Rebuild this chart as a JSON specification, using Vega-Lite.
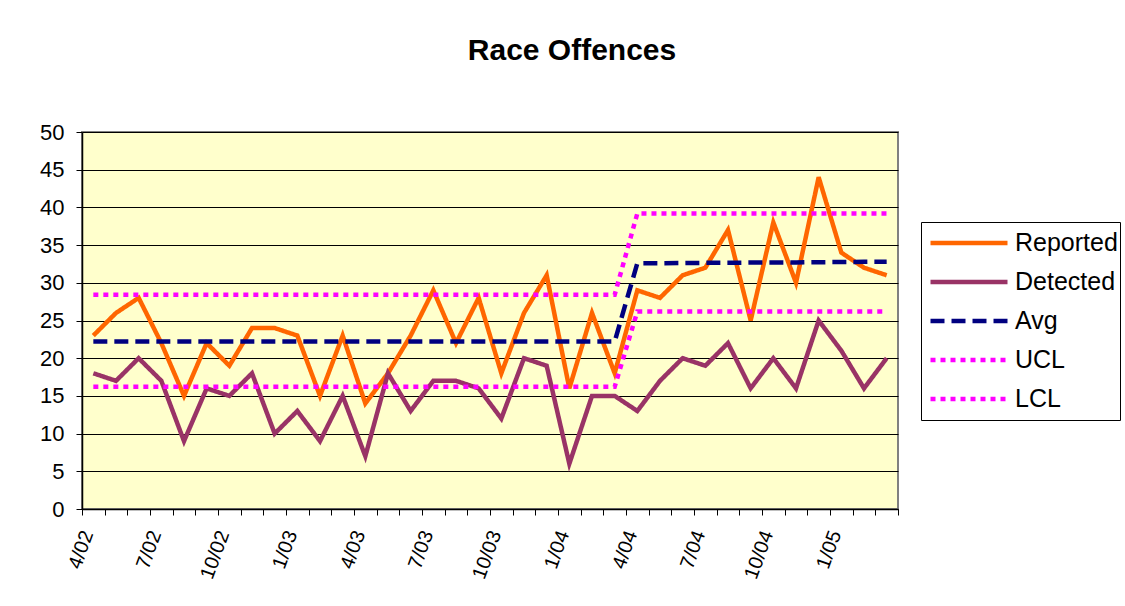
{
  "$schema": "https://vega.github.io/schema/vega-lite/v6.json",
  "width": 816,
  "height": 377,
  "autosize": {"type": "none"},
  "padding": {"left": 82, "top": 132, "right": 227, "bottom": 97},
  "background": "white",
  "config": {
    "font": "Liberation Sans",
    "view": {"fill": "#FFFFCC", "stroke": "#808080", "strokeWidth": 2}
  },
  "title": {"text": "Race Offences", "fontSize": 30, "font": "Liberation Sans", "fontWeight": "bold", "color": "black", "anchor": "middle", "dx": 82, "offset": 55},
  "data": {"values": [
    {"month": "4/02", "Reported": 23, "Detected": 18, "Avg": 22.2, "UCL": 28.4, "LCL": 16.2},
    {"month": "5/02", "Reported": 26, "Detected": 17, "Avg": 22.2, "UCL": 28.4, "LCL": 16.2},
    {"month": "6/02", "Reported": 28, "Detected": 20, "Avg": 22.2, "UCL": 28.4, "LCL": 16.2},
    {"month": "7/02", "Reported": 22, "Detected": 17, "Avg": 22.2, "UCL": 28.4, "LCL": 16.2},
    {"month": "8/02", "Reported": 15, "Detected": 9, "Avg": 22.2, "UCL": 28.4, "LCL": 16.2},
    {"month": "9/02", "Reported": 22, "Detected": 16, "Avg": 22.2, "UCL": 28.4, "LCL": 16.2},
    {"month": "10/02", "Reported": 19, "Detected": 15, "Avg": 22.2, "UCL": 28.4, "LCL": 16.2},
    {"month": "11/02", "Reported": 24, "Detected": 18, "Avg": 22.2, "UCL": 28.4, "LCL": 16.2},
    {"month": "12/02", "Reported": 24, "Detected": 10, "Avg": 22.2, "UCL": 28.4, "LCL": 16.2},
    {"month": "1/03", "Reported": 23, "Detected": 13, "Avg": 22.2, "UCL": 28.4, "LCL": 16.2},
    {"month": "2/03", "Reported": 15, "Detected": 9, "Avg": 22.2, "UCL": 28.4, "LCL": 16.2},
    {"month": "3/03", "Reported": 23, "Detected": 15, "Avg": 22.2, "UCL": 28.4, "LCL": 16.2},
    {"month": "4/03", "Reported": 14, "Detected": 7, "Avg": 22.2, "UCL": 28.4, "LCL": 16.2},
    {"month": "5/03", "Reported": 18, "Detected": 18, "Avg": 22.2, "UCL": 28.4, "LCL": 16.2},
    {"month": "6/03", "Reported": 23, "Detected": 13, "Avg": 22.2, "UCL": 28.4, "LCL": 16.2},
    {"month": "7/03", "Reported": 29, "Detected": 17, "Avg": 22.2, "UCL": 28.4, "LCL": 16.2},
    {"month": "8/03", "Reported": 22, "Detected": 17, "Avg": 22.2, "UCL": 28.4, "LCL": 16.2},
    {"month": "9/03", "Reported": 28, "Detected": 16, "Avg": 22.2, "UCL": 28.4, "LCL": 16.2},
    {"month": "10/03", "Reported": 18, "Detected": 12, "Avg": 22.2, "UCL": 28.4, "LCL": 16.2},
    {"month": "11/03", "Reported": 26, "Detected": 20, "Avg": 22.2, "UCL": 28.4, "LCL": 16.2},
    {"month": "12/03", "Reported": 31, "Detected": 19, "Avg": 22.2, "UCL": 28.4, "LCL": 16.2},
    {"month": "1/04", "Reported": 16, "Detected": 6, "Avg": 22.2, "UCL": 28.4, "LCL": 16.2},
    {"month": "2/04", "Reported": 26, "Detected": 15, "Avg": 22.2, "UCL": 28.4, "LCL": 16.2},
    {"month": "3/04", "Reported": 18, "Detected": 15, "Avg": 22.2, "UCL": 28.4, "LCL": 16.2},
    {"month": "4/04", "Reported": 29, "Detected": 13, "Avg": 32.6, "UCL": 39.2, "LCL": 26.2},
    {"month": "5/04", "Reported": 28, "Detected": 17, "Avg": 32.6, "UCL": 39.2, "LCL": 26.2},
    {"month": "6/04", "Reported": 31, "Detected": 20, "Avg": 32.62, "UCL": 39.2, "LCL": 26.2},
    {"month": "7/04", "Reported": 32, "Detected": 19, "Avg": 32.65, "UCL": 39.2, "LCL": 26.2},
    {"month": "8/04", "Reported": 37, "Detected": 22, "Avg": 32.65, "UCL": 39.2, "LCL": 26.2},
    {"month": "9/04", "Reported": 25, "Detected": 16, "Avg": 32.68, "UCL": 39.2, "LCL": 26.2},
    {"month": "10/04", "Reported": 38, "Detected": 20, "Avg": 32.7, "UCL": 39.2, "LCL": 26.2},
    {"month": "11/04", "Reported": 30, "Detected": 16, "Avg": 32.7, "UCL": 39.2, "LCL": 26.2},
    {"month": "12/04", "Reported": 44, "Detected": 25, "Avg": 32.73, "UCL": 39.2, "LCL": 26.2},
    {"month": "1/05", "Reported": 34, "Detected": 21, "Avg": 32.75, "UCL": 39.2, "LCL": 26.2},
    {"month": "2/05", "Reported": 32, "Detected": 16, "Avg": 32.78, "UCL": 39.2, "LCL": 26.2},
    {"month": "3/05", "Reported": 31, "Detected": 20, "Avg": 32.8, "UCL": 39.2, "LCL": 26.2}
  ]},
  "transform": [{"fold": ["Reported", "Detected", "Avg", "UCL", "LCL"], "as": ["series", "value"]}],
  "mark": {"type": "line"},
  "encoding": {
    "x": {
      "field": "month", "type": "ordinal", "sort": null,
      "scale": {"type": "band", "paddingInner": 0, "paddingOuter": 0},
      "axis": {
        "title": null,
        "labelExpr": "indexof(['4/02','7/02','10/02','1/03','4/03','7/03','10/03','1/04','4/04','7/04','10/04','1/05'], datum.value) >= 0 ? datum.value : ''",
        "labelAngle": -70, "labelFontSize": 20, "labelColor": "black", "labelPadding": 16, "labelOffset": -6,
        "tickBand": "extent", "tickColor": "black", "tickSize": 6, "domainColor": "black", "domainWidth": 1.5, "grid": false, "labelOverlap": false
      }
    },
    "y": {
      "field": "value", "type": "quantitative",
      "scale": {"domain": [0, 50], "nice": false},
      "axis": {
        "title": null, "values": [0, 5, 10, 15, 20, 25, 30, 35, 40, 45, 50],
        "grid": true, "gridColor": "black", "gridOpacity": 1, "gridWidth": 1,
        "domainColor": "black", "domainWidth": 1.5, "tickColor": "black", "tickSize": 6,
        "labelFontSize": 22, "labelColor": "black", "labelPadding": 12
      }
    },
    "color": {
      "field": "series", "type": "nominal",
      "scale": {"domain": ["Reported", "Detected", "Avg", "UCL", "LCL"], "range": ["#FF6600", "#993366", "#000080", "#FF00FF", "#FF00FF"]},
      "legend": {
        "title": null, "orient": "none", "legendX": 839, "legendY": 90,
        "strokeColor": "black", "fillColor": "white", "padding": 2,
        "labelFontSize": 25, "labelColor": "black", "labelOffset": 5,
        "symbolType": "stroke", "symbolSize": 5929, "symbolOffset": 5, "clipHeight": 38, "rowPadding": 1
      }
    },
    "strokeDash": {
      "field": "series", "type": "nominal",
      "scale": {"domain": ["Reported", "Detected", "Avg", "UCL", "LCL"], "range": [[1, 0], [1, 0], [14, 7], [5, 5], [5, 5]]}
    },
    "strokeWidth": {
      "field": "series", "type": "nominal",
      "scale": {"domain": ["Reported", "Detected", "Avg", "UCL", "LCL"], "range": [4.5, 4.5, 2.5, 2.2, 2.2]}
    }
  }
}
